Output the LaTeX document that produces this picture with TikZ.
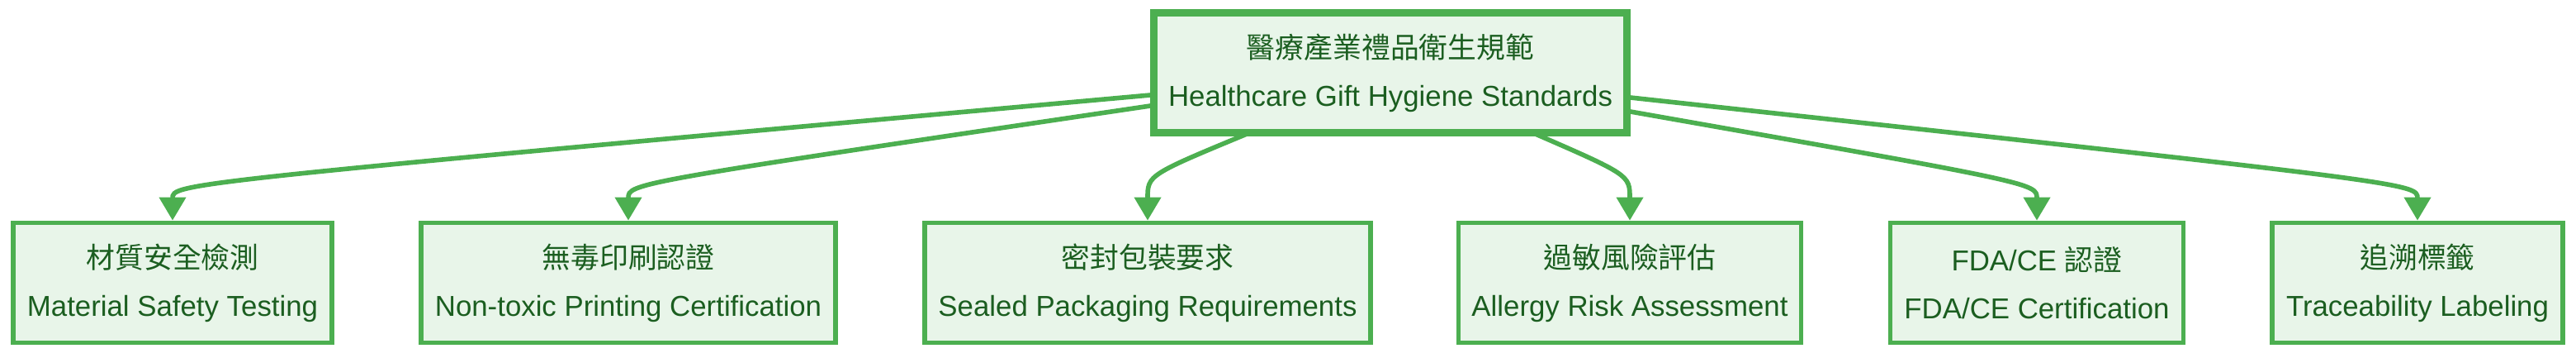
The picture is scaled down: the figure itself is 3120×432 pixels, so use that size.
\documentclass[tikz,border=0pt]{standalone}
\usepackage{fontspec}
\setmainfont{Liberation Sans}
\newfontfamily\cjk{Noto Sans CJK TC}
\usetikzlibrary{arrows.meta,calc}
\definecolor{gfill}{HTML}{E8F5E9}
\definecolor{gline}{HTML}{4CAF50}
\definecolor{gtext}{HTML}{1B5E20}
\tikzset{
 box/.style={draw=gline,fill=gfill,line width=1.6pt,text=gtext,align=center,inner sep=0pt,
   minimum height=1.45cm,font=\fontsize{9.9}{16.5}\selectfont},
 rootbox/.style={box,line width=2.6pt},
 edge/.style={draw=gline,line width=1.6pt,-{Triangle[width=9pt,length=8pt]}}
}
\newcommand{\tl}[2]{{\cjk #1}\\#2}
\begin{document}
\begin{tikzpicture}[x=0.01cm,y=0.01cm]
\useasboundingbox (0,0) rectangle (3120,432);
\node[rootbox,minimum width=5.72cm] (r) at (1684,344) {\tl{醫療產業禮品衛生規範}{Healthcare Gift Hygiene Standards}};
\node[box,minimum width=3.86cm] (c1) at (209,90) {\tl{材質安全檢測}{Material Safety Testing}};
\node[box,minimum width=5.02cm] (c2) at (761,90) {\tl{無毒印刷認證}{Non-toxic Printing Certification}};
\node[box,minimum width=5.40cm] (c3) at (1390,90) {\tl{密封包裝要求}{Sealed Packaging Requirements}};
\node[box,minimum width=4.15cm] (c4) at (1974,90) {\tl{過敏風險評估}{Allergy Risk Assessment}};
\node[box,minimum width=3.55cm] (c5) at (2467,90) {FDA/CE {\cjk 認證}\\FDA/CE Certification};
\node[box,minimum width=3.52cm] (c6) at (2928,90) {\tl{追溯標籤}{Traceability Labeling}};
\coordinate (s1) at ($(r.west)+(0,-27)$);
\coordinate (s2) at ($(r.west)+(0,-40)$);
\coordinate (s3) at (1515,272);
\coordinate (s4) at (1855,272);
\coordinate (s5) at ($(r.east)+(0,-47)$);
\coordinate (s6) at ($(r.east)+(0,-30)$);
\draw[edge] (s1) .. controls ($(c1.north)+(0,45)$) .. (c1.north);
\draw[edge] (s2) .. controls ($(c2.north)+(0,45)$) .. (c2.north);
\draw[edge] (s3) .. controls ($(c3.north)+(0,55)$) .. (c3.north);
\draw[edge] (s4) .. controls ($(c4.north)+(0,55)$) .. (c4.north);
\draw[edge] (s5) .. controls ($(c5.north)+(0,45)$) .. (c5.north);
\draw[edge] (s6) .. controls ($(c6.north)+(0,45)$) .. (c6.north);
\end{tikzpicture}
\end{document}
